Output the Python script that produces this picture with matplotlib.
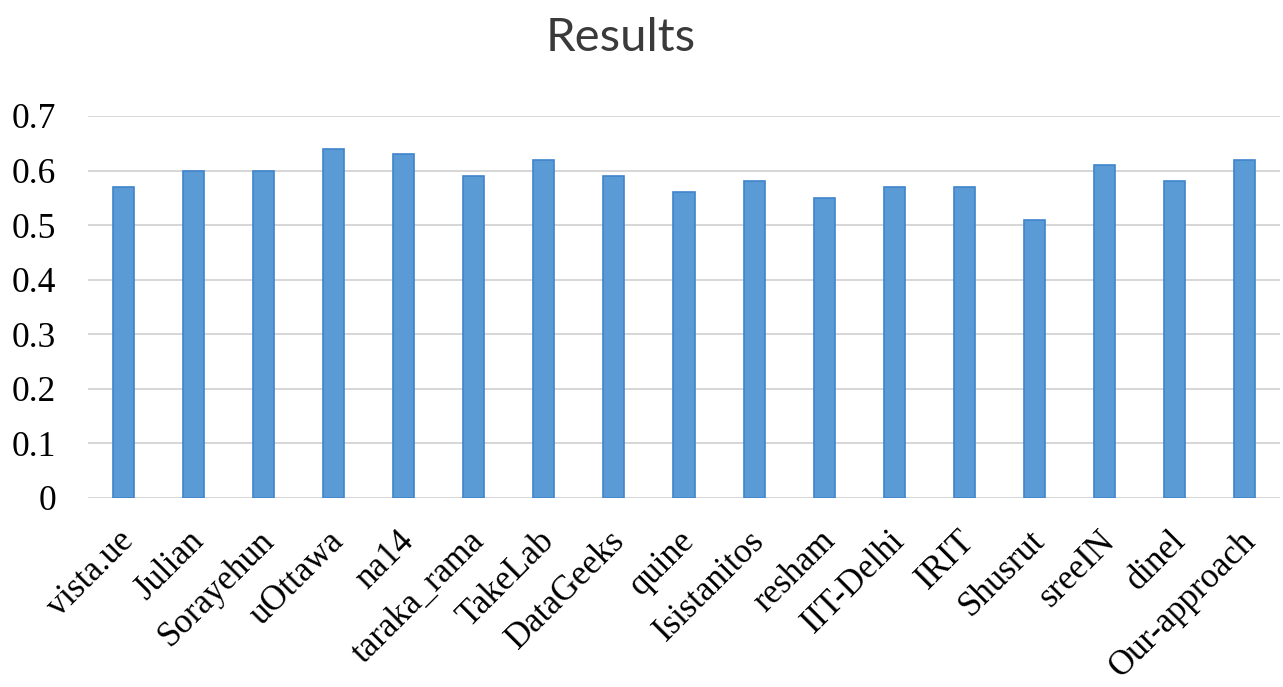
import numpy as np
import matplotlib.pyplot as plt
import matplotlib.transforms as mtransforms

# 数据
teams = ["vista.ue", "Julian", "Sorayehun", "uOttawa", "na14", "taraka_rama",
         "TakeLab", "DataGeeks", "quine", "Isistanitos", "resham", "IIT-Delhi",
         "IRIT", "Shusrut", "sreeIN", "dinel", "Our-approach"]
scores = [0.57, 0.60, 0.60, 0.64, 0.63, 0.59, 0.62, 0.59, 0.56, 0.58,
          0.55, 0.57, 0.57, 0.51, 0.61, 0.58, 0.62]
yticks = [0, 0.1, 0.2, 0.3, 0.4, 0.5, 0.6, 0.7]

fig = plt.figure(figsize=(12.83, 6.87), dpi=100)
ax = fig.add_axes([88 / 1283, 1 - 498 / 687, 1192 / 1283, 382 / 687])

x = np.arange(len(teams))
ax.bar(x, scores, width=0.3, color="#5B9BD5", edgecolor="#3F84CC", linewidth=1.2, zorder=3)

ax.set_xlim(-0.5, len(teams) - 0.5)
ax.set_ylim(0, 0.7)
ax.set_yticks(yticks)
ax.set_yticklabels(["0" if v == 0 else f"{v:.1f}" for v in yticks],
                   fontfamily="Liberation Serif", fontsize=25.5)
ax.set_xticks(x)
ax.set_xticklabels(teams, rotation=45, ha="right", rotation_mode="anchor",
                   fontfamily="Liberation Serif", fontsize=25)
ax.tick_params(length=0)
ax.tick_params(axis="x", pad=19)
ax.tick_params(axis="y", pad=23)
# 标签稍微左移
offset = mtransforms.ScaledTranslation(-0.06, 0, fig.dpi_scale_trans)
for lab in ax.get_xticklabels():
    lab.set_transform(lab.get_transform() + offset)
ax.grid(axis="y", color="#D0D0D0", linewidth=1.2, zorder=0)
for s in ax.spines.values():
    s.set_visible(False)

fig.text(0.484, 0.945, "Results", ha="center", va="center",
         fontfamily="Lato", fontsize=34, color="#3a3a3a")

fig.savefig("out.png", dpi=100)
